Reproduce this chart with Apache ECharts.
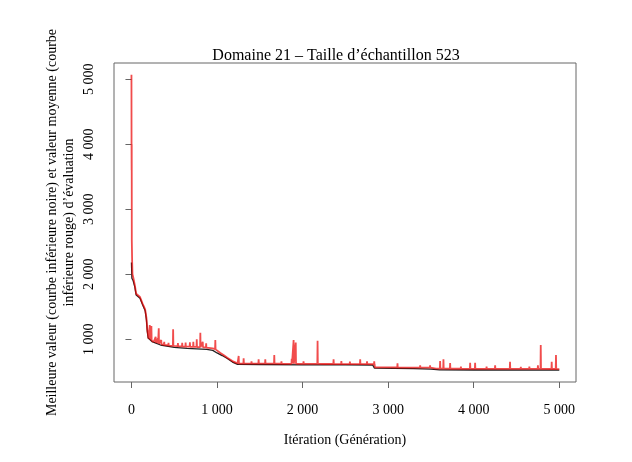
<!DOCTYPE html>
<html lang="fr">
<head>
<meta charset="UTF-8">
<title>Domaine 21</title>
<script src="https://cdn.jsdelivr.net/npm/echarts@6/dist/echarts.min.js"></script>
<style>
  html, body { margin: 0; padding: 0; background: #fff; }
  #chart { width: 632px; height: 462px; }
</style>
</head>
<body>
<div id="chart"></div>
<script>
// meilleure valeur (courbe noire)
var bestIter = [0, 5, 20, 40, 55, 100, 130, 160, 175, 185, 195, 240, 340, 500, 650, 880, 950, 1000, 1060, 1120, 1180, 1240, 1500, 2000, 2500, 2820, 2840, 3300, 3500, 3600, 4000, 5000];
var bestVal  = [2180, 1940, 1900, 1800, 1680, 1630, 1530, 1440, 1300, 1120, 1020, 965, 912, 877, 860, 846, 830, 790, 750, 705, 650, 615, 612, 608, 605, 603, 555, 550, 540, 530, 528, 526];

// valeur moyenne (courbe rouge)
var meanIter = [0, 1, 2, 3, 4, 6, 8, 12, 20, 40, 55, 100, 130, 160, 175, 185, 200,
  211, 214, 217, 230, 233, 236, 260, 280, 283, 286, 305, 308, 311, 316, 319, 322,
  345, 348, 351, 380, 383, 386, 430, 433, 436, 484, 487, 490, 540, 543, 546,
  590, 593, 596, 630, 633, 636, 680, 683, 686, 720, 723, 726, 760, 763, 766,
  802, 805, 808, 830, 833, 836, 870, 873, 876, 950, 977, 980, 983,
  1000, 1040, 1080, 1120, 1180, 1240, 1250, 1253, 1256, 1308, 1311, 1314,
  1400, 1403, 1406, 1483, 1486, 1489, 1561, 1564, 1567, 1666, 1669, 1672,
  1750, 1753, 1756, 1870, 1873, 1876, 1892, 1895, 1898, 1917, 1920, 1923,
  2008, 2011, 2014, 2080, 2083, 2086, 2172, 2175, 2178, 2250, 2253, 2256,
  2359, 2362, 2365, 2450, 2453, 2456, 2550, 2553, 2556, 2670, 2673, 2676,
  2750, 2753, 2756, 2834, 2837, 2840, 2846,
  3000, 3003, 3006, 3106, 3109, 3112, 3250, 3253, 3256, 3371, 3374, 3377,
  3487, 3490, 3493, 3560, 3604, 3607, 3610, 3643, 3646, 3649, 3721, 3724, 3727,
  3847, 3850, 3853, 3955, 3958, 3961, 4013, 4016, 4019, 4147, 4150, 4153,
  4247, 4250, 4253, 4421, 4424, 4427, 4547, 4550, 4553, 4647, 4650, 4653,
  4747, 4750, 4753, 4780, 4783, 4786, 4908, 4911, 4914, 4958, 4961, 4964, 5000];
var meanVal  = [5069, 4000, 3600, 4000, 2520, 2500, 2200, 2000, 1960, 1830, 1700, 1650, 1550, 1460, 1330, 1150, 1010,
  1000, 1220, 995, 985, 1205, 980, 960, 945, 1040, 945, 940, 1010, 935, 935, 1169, 932,
  925, 990, 922, 915, 960, 912, 905, 945, 903, 900, 1154, 898, 895, 940, 893,
  890, 945, 889, 888, 950, 887, 886, 955, 885, 884, 960, 883, 882, 1000, 881,
  880, 1102, 879, 878, 960, 877, 875, 940, 873, 860, 850, 990, 845,
  815, 790, 755, 715, 665, 630, 628, 743, 627, 626, 708, 626,
  625, 660, 625, 625, 692, 625, 625, 692, 625, 625, 758, 625,
  624, 660, 624, 623, 700, 623, 623, 990, 623, 623, 950, 623,
  622, 660, 622, 622, 650, 622, 621, 978, 621, 620, 650, 620,
  620, 692, 620, 619, 665, 619, 619, 655, 619, 618, 692, 618,
  617, 660, 617, 616, 662, 616, 568,
  567, 590, 567, 566, 631, 566, 565, 590, 565, 564, 600, 564,
  563, 600, 563, 550, 548, 666, 548, 548, 692, 548, 547, 635, 547,
  547, 580, 547, 546, 640, 546, 546, 640, 546, 545, 580, 545,
  545, 600, 545, 545, 655, 545, 544, 575, 544, 544, 580, 544,
  544, 600, 544, 544, 912, 544, 543, 655, 543, 543, 758, 543, 540];

var xTicks = [0, 1000, 2000, 3000, 4000, 5000];
var yTicks = [1000, 2000, 3000, 4000, 5000];

function pairs(xs, ys) {
  var out = [];
  for (var i = 0; i < xs.length; i++) out.push([xs[i], ys[i]]);
  return out;
}
function fmt(v) {
  return String(v).replace(/\B(?=(\d{3})+(?!\d))/g, ' ');
}

var serif = 'Liberation Serif';
var myChart = echarts.init(document.getElementById('chart'));
var option = {
  animation: false,
  backgroundColor: '#fff',
  title: {
    text: 'Domaine 21 – Taille d’échantillon 523',
    left: 331,
    top: 43,
    textAlign: 'center',
    textStyle: { fontFamily: serif, fontSize: 16, fontWeight: 'normal', color: '#000' }
  },
  grid: {
    left: 114, right: 56, top: 63, bottom: 80,
    show: true, borderColor: '#666', borderWidth: 1, backgroundColor: 'transparent'
  },
  xAxis: {
    type: 'value',
    min: -204, max: 5195,
    axisLine: { show: false },
    splitLine: { show: false },
    axisTick: { show: true, length: 6, customValues: xTicks, lineStyle: { color: '#666' } },
    axisLabel: {
      customValues: xTicks, margin: 21, formatter: fmt,
      fontFamily: serif, fontSize: 14, color: '#000'
    },
    name: 'Itération (Génération)',
    nameLocation: 'middle',
    nameGap: 51,
    nameMoveOverlap: false,
    nameTextStyle: { fontFamily: serif, fontSize: 14, color: '#000' }
  },
  yAxis: {
    type: 'value',
    min: 343, max: 5251,
    axisLine: { show: false },
    splitLine: { show: false },
    axisTick: { show: true, length: 6, customValues: yTicks, lineStyle: { color: '#666' } },
    axisLabel: {
      customValues: yTicks, rotate: 90, margin: 18, formatter: fmt,
      fontFamily: serif, fontSize: 14, color: '#000'
    },
    name: 'Meilleure valeur (courbe inférieure noire) et valeur moyenne (courbe\ninférieure rouge) d’évaluation',
    nameLocation: 'middle',
    nameRotate: 90,
    nameGap: 36,
    nameMoveOverlap: false,
    nameTextStyle: { fontFamily: serif, fontSize: 14, color: '#000', lineHeight: 17 }
  },
  series: [
    {
      name: 'meilleure',
      type: 'line',
      data: pairs(bestIter, bestVal),
      showSymbol: false,
      lineStyle: { color: '#222', width: 1.3 },
      z: 2
    },
    {
      name: 'moyenne',
      type: 'line',
      data: pairs(meanIter, meanVal),
      showSymbol: false,
      lineStyle: { color: 'rgba(235, 0, 0, 0.7)', width: 1.8 },
      z: 3
    }
  ]
};
myChart.setOption(option);
</script>
</body>
</html>
